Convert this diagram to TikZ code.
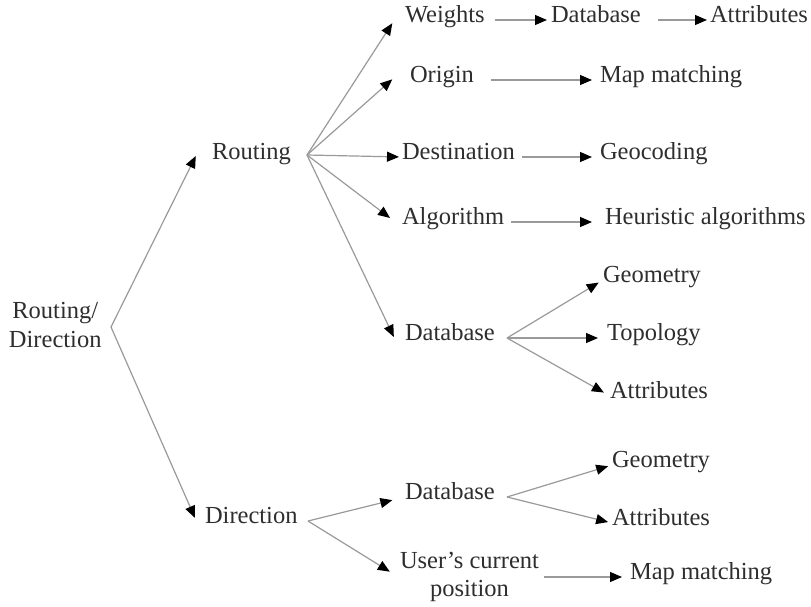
\documentclass[tikz,border=0pt]{standalone}
\usepackage{fontspec}
\setmainfont{Liberation Serif}
\usetikzlibrary{arrows.meta}
\definecolor{txt}{HTML}{2E2E2E}
\definecolor{ln}{HTML}{9A9A9A}
\tikzset{
  lbl/.style={anchor=west, inner sep=0pt, outer sep=0pt, text=txt,
    font=\fontsize{24.5}{27}\selectfont, text height=0.68em, text depth=0.2em},
  lbltwo/.style={anchor=west, inner sep=0pt, outer sep=0pt, text=txt,
    align=center, font=\fontsize{24.5}{28.5}\selectfont},
  conn/.style={draw=ln, line width=1.2pt,
    -{Triangle[length=12pt,width=10pt,color=black]}},
}
\begin{document}
\begin{tikzpicture}[x=1pt,y=-1pt]
\useasboundingbox (0,0) rectangle (811,606);
\fill[white] (0,0) rectangle (811,606);

% first level
\node[lbltwo] (root) at (9,325) {Routing/\\Direction};
\coordinate (rootV) at (111,327);
\node[lbl] (routing) at (212,157) {Routing};
\coordinate (routingV) at (307,155);
\node[lbl] (direction) at (205,521) {Direction};
\coordinate (dirV) at (308,521);

% routing branch
\node[lbl] (weights) at (405,20) {Weights};
\node[lbl] (db1) at (551,20) {Database};
\node[lbl] (attr1) at (710,20) {Attributes};
\node[lbl] (origin) at (410,80) {Origin};
\node[lbl] (mapm1) at (600,80) {Map matching};
\node[lbl] (dest) at (402,157) {Destination};
\node[lbl] (geoc) at (600,157) {Geocoding};
\node[lbl] (algo) at (402,222) {Algorithm};
\node[lbl] (heur) at (605,222) {Heuristic algorithms};
\node[lbl] (db2) at (405,338) {Database};
\coordinate (db2V) at (507,338);
\node[lbl] (geom1) at (603,280) {Geometry};
\node[lbl] (topo) at (607,338) {Topology};
\node[lbl] (attr2) at (610,396) {Attributes};

% direction branch
\node[lbl] (db3) at (405,497) {Database};
\coordinate (db3V) at (507,497);
\node[lbl] (geom2) at (612,465) {Geometry};
\node[lbl] (attr3) at (612,523) {Attributes};
\node[lbltwo] (user) at (400,577) {User's current\\position};
\node[lbl] (mapm2) at (630,577) {Map matching};

% connectors
\draw[conn, shorten >=5pt] (rootV) -- ([shift={(-14,-5.5)}]routing.west);
\draw[conn, shorten >=5pt] (rootV) -- ([shift={(-8,1.5)}]direction.west);

\draw[conn, shorten >=5pt] (routingV) -- ([shift={(-10,-1)}]weights.west);
\draw[conn, shorten >=5pt] (routingV) -- ([shift={(-14,-4)}]origin.west);
\draw[conn, shorten >=3pt] (routingV) -- (dest.west);
\draw[conn, shorten >=5pt] (routingV) -- ([shift={(-8,-1)}]algo.west);
\draw[conn, shorten >=5pt] (routingV) -- ([shift={(-9,3.5)}]db2.west);

\draw[conn, shorten <=10pt, shorten >=4pt] (weights.east) -- (db1.west);
\draw[conn, shorten <=17pt, shorten >=3pt] (db1.east) -- (attr1.west);
\draw[conn, shorten <=17pt, shorten >=8pt] (origin.east) -- (mapm1.west);
\draw[conn, shorten <=7pt, shorten >=8pt] (dest.east) -- (geoc.west);
\draw[conn, shorten <=7pt, shorten >=13pt] (algo.east) -- (heur.west);

\draw[conn, shorten >=5pt] (db2V) -- (geom1.west);
\draw[conn, shorten >=9pt] (db2V) -- (topo.west);
\draw[conn, shorten >=7pt] (db2V) -- (attr2.west);

\draw[conn, shorten >=13pt] (dirV) -- (db3.west);
\draw[conn, shorten >=12pt] (dirV) -- ([yshift=-1pt]user.west);
\draw[conn, shorten >=4pt] (db3V) -- (geom2.west);
\draw[conn, shorten >=4pt] (db3V) -- (attr3.west);
\draw[conn, shorten <=5pt, shorten >=8pt] (user.east) -- (mapm2.west);
\end{tikzpicture}
\end{document}
